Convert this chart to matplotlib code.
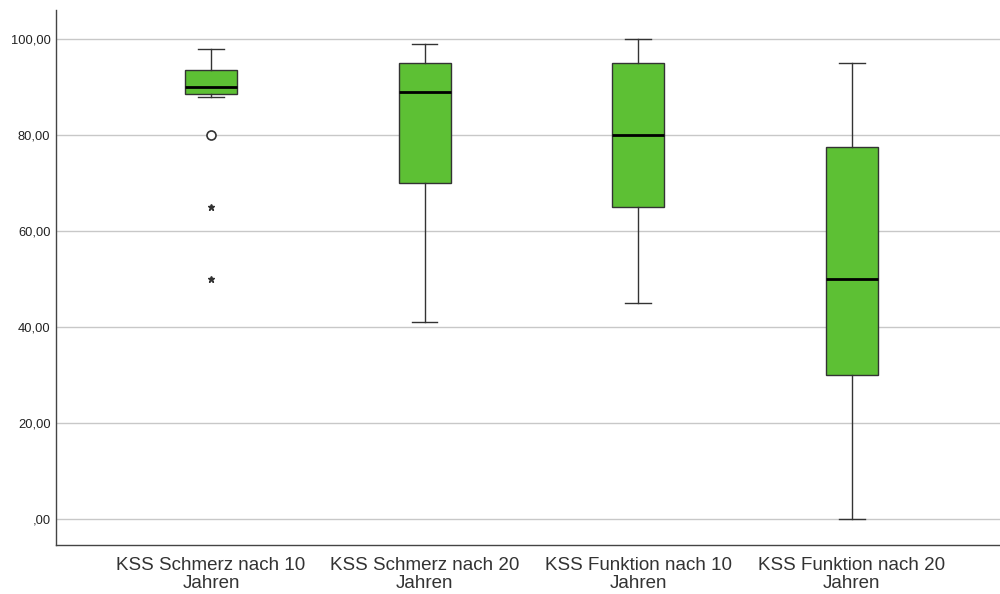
import matplotlib
matplotlib.use("Agg")
import matplotlib.pyplot as plt
from matplotlib.ticker import FuncFormatter

# categories and box statistics
labels = ["KSS Schmerz nach 10\nJahren", "KSS Schmerz nach 20\nJahren",
          "KSS Funktion nach 10\nJahren", "KSS Funktion nach 20\nJahren"]
whisker_low = [88, 41, 45, 0]
q1 = [88.5, 70, 65, 30]
medians = [90, 89, 80, 50]
q3 = [93.5, 95, 95, 77.5]
whisker_high = [98, 99, 100, 95]
outliers_mild = [[80], [], [], []]        # drawn as circles
outliers_extreme = [[65, 50], [], [], []]  # drawn as stars

y_ticks = [0, 20, 40, 60, 80, 100]

plt.rcParams['font.family'] = ['Liberation Sans', 'DejaVu Sans']

fig = plt.figure(figsize=(10, 5.94), dpi=100)
ax = fig.add_axes([0.056, 0.0825, 0.944, 0.9005])

stats = []
for i in range(len(labels)):
    stats.append({
        "whislo": whisker_low[i], "q1": q1[i], "med": medians[i],
        "q3": q3[i], "whishi": whisker_high[i], "fliers": [],
    })

positions = list(range(1, len(labels) + 1))
ax.bxp(stats, positions=positions, widths=0.243, capwidths=0.12,
       patch_artist=True, showfliers=False,
       boxprops=dict(facecolor="#5dc034", edgecolor="#333333", linewidth=1.0),
       medianprops=dict(color="black", linewidth=2.0),
       whiskerprops=dict(color="#333333", linewidth=1.0),
       capprops=dict(color="#333333", linewidth=1.0),
       zorder=3)

for pos, vals in zip(positions, outliers_mild):
    if vals:
        ax.plot([pos] * len(vals), vals, linestyle="none", marker="o",
                markersize=6.5, markerfacecolor="white",
                markeredgecolor="#333333", markeredgewidth=1.2, zorder=4)
for pos, vals in zip(positions, outliers_extreme):
    if vals:
        ax.plot([pos] * len(vals), vals, linestyle="none", marker="*",
                markersize=5, color="#333333", zorder=4)

ax.set_xlim(0.2746, 4.693)
ax.set_ylim(-5.42, 106.04)
ax.set_yticks(y_ticks)
ax.yaxis.set_major_formatter(FuncFormatter(
    lambda v, _: ("%.2f" % v).replace(".", ",").lstrip("0") if v == 0
    else ("%.2f" % v).replace(".", ",")))
ax.set_xticks(positions)
ax.set_xticklabels(labels, fontsize=13.5, color="#333333", linespacing=1.02)
ax.tick_params(axis="both", length=0)
ax.tick_params(axis="y", labelsize=9.3, colors="#222222", pad=4)
ax.tick_params(axis="x", pad=9)

ax.grid(axis="y", color="#c8c8c8", linewidth=1.0, zorder=0)
ax.set_axisbelow(True)
for side in ["top", "right"]:
    ax.spines[side].set_visible(False)
for side in ["left", "bottom"]:
    ax.spines[side].set_color("#444444")
    ax.spines[side].set_linewidth(1.0)

fig.savefig("out.png", dpi=100)
